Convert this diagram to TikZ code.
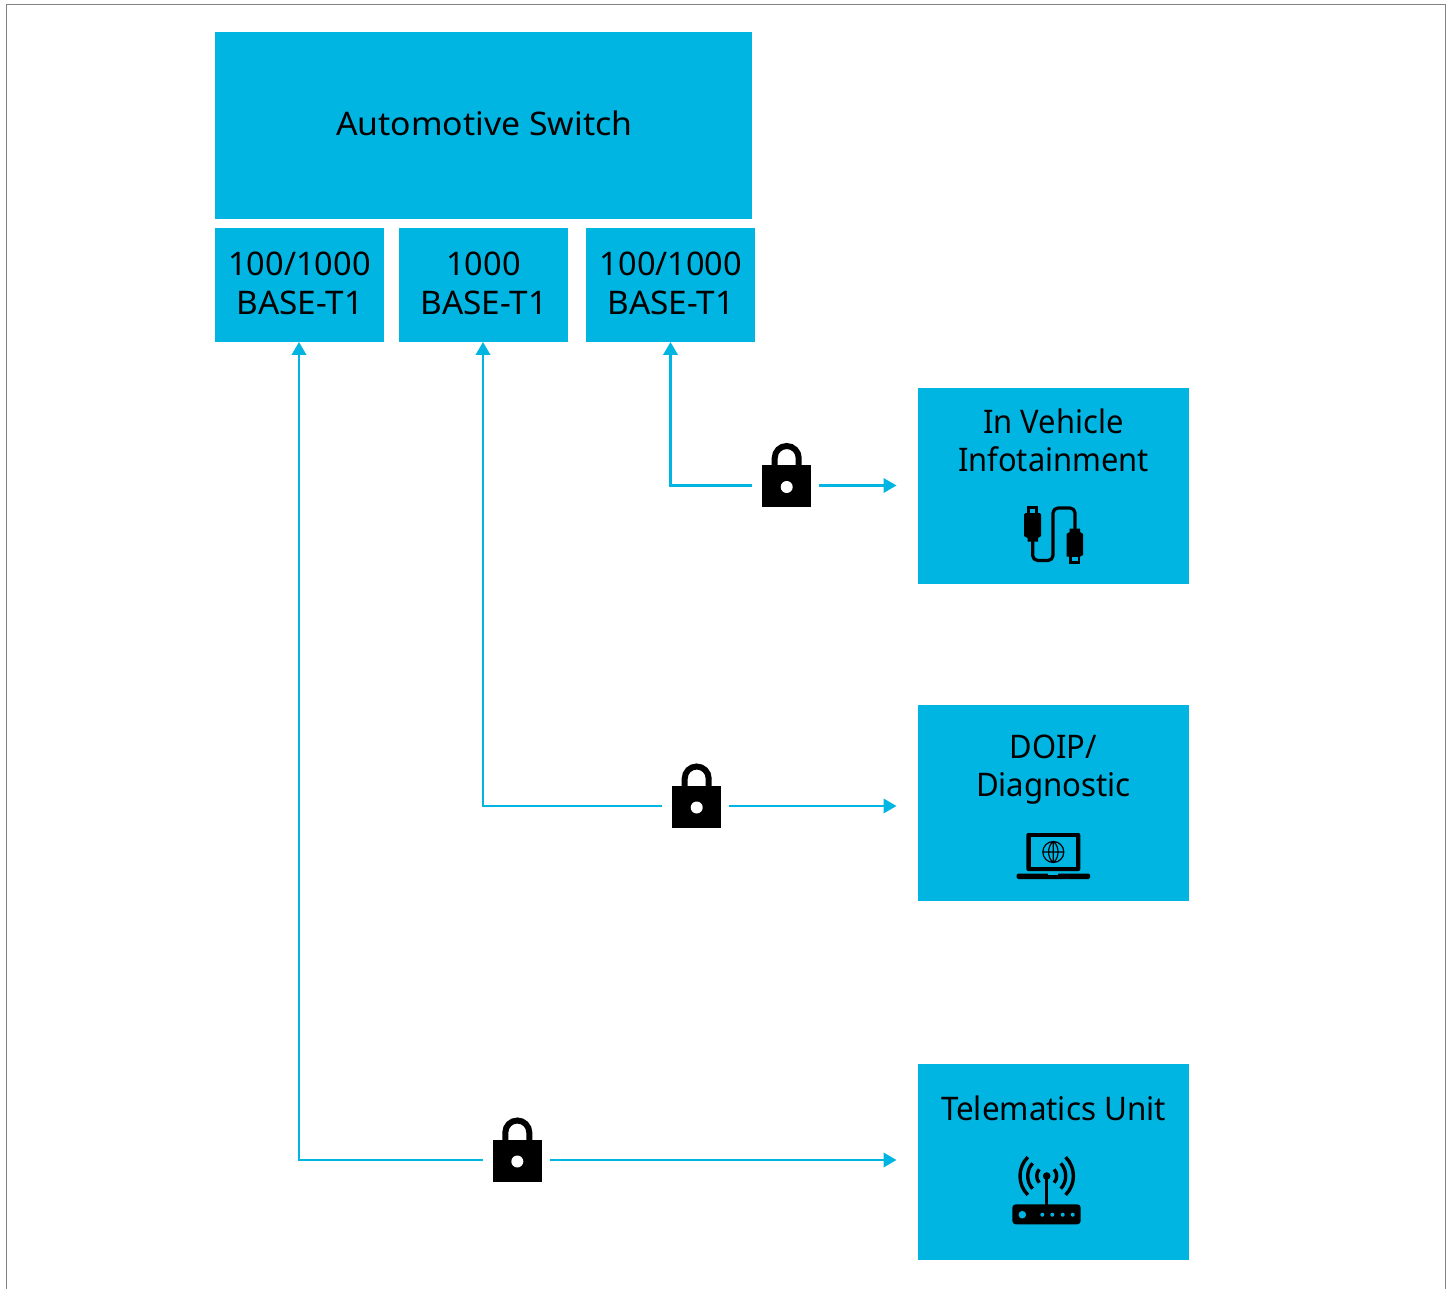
\documentclass[tikz,border=0pt]{standalone}
\usepackage{fontspec}
\setmainfont{Noto Sans}
\usetikzlibrary{arrows.meta,calc}
\definecolor{tealblue}{HTML}{00B5E2}
\definecolor{framegray}{HTML}{7F8385}
\newcommand{\hfitx}[2]{\scalebox{#1}[1]{#2}}
\tikzset{
  x=1pt,y=-1pt,
  box/.style={fill=tealblue,inner sep=0pt,outer sep=0pt,font=\fontsize{32.5}{39}\selectfont,align=center,text=black},
  caption/.style={inner sep=0pt,outer sep=0pt,font=\fontsize{32.5}{38}\selectfont,align=center,text=black},
  link/.style={draw=tealblue,line width=2.2pt,-{Triangle[length=13pt,width=14.5pt]}},
  gap/.style={inner sep=0pt,outer sep=0pt,minimum width=67pt,minimum height=2pt},
  icon/.style={line width=3.2pt,draw=black,line cap=round,line join=round},
  pics/padlock/.style={code={
    \begin{scope}[y=1pt]
      \fill[black] (-24.5,20.5) rectangle (24.5,-21.5);
      \draw[black,line width=6pt] (-12,20) -- (-12,27.5) arc[start angle=180,end angle=0,radius=12pt] -- (12,20);
      \fill[white] (0,-1.5) circle[radius=6pt];
    \end{scope}
  }}
}
\begin{document}
\begin{tikzpicture}
\useasboundingbox (0,0) rectangle (1452,1289);
% frame
\draw[framegray,line width=1.3pt] (6.5,1289) -- (6.5,4.3) -- (1445.5,4.3) -- (1445.5,1289);
% switch and ports
\node[box,minimum width=537pt,minimum height=187pt] (switch) at (483.5,125.5) {\hspace*{1.5pt}\raisebox{5pt}{\hfitx{1.04}{Automotive Switch}}};
\node[box,minimum width=169pt,minimum height=114pt] (port1) at (299.5,285) {\raisebox{3pt}{100/1000}\\\raisebox{3pt}{\hspace*{1pt}\hfitx{1.025}{BASE-T1}}};
\node[box,minimum width=169pt,minimum height=114pt] (port2) at (483.5,285) {\raisebox{3pt}{1000}\\\raisebox{3pt}{\hspace*{1pt}\hfitx{1.025}{BASE-T1}}};
\node[box,minimum width=169pt,minimum height=114pt] (port3) at (670.5,285) {\raisebox{3pt}{\hspace*{1pt}100/1000}\\\raisebox{3pt}{\hspace*{1pt}\hfitx{1.025}{BASE-T1}}};
% devices
\node[box,minimum width=271pt,minimum height=196pt] (info) at (1053.5,486) {};
\node[box,minimum width=271pt,minimum height=196pt] (diag) at (1053.5,803) {};
\node[box,minimum width=271pt,minimum height=196pt] (tele) at (1053.5,1162) {};
\node[caption] (infotext) at (1053.5,440.5) {\hfitx{0.95}{In Vehicle}\\\hfitx{0.95}{Infotainment}};
\node[caption] (diagtext) at (1053.5,769.5) {\hfitx{0.95}{DOIP/}\\\hfitx{0.96}{Diagnostic}};
\node[caption] (teletext) at (1053.5,1108) {\hfitx{0.965}{Telematics Unit}};
% lock gaps
\node[gap] (lock1) at (785.5,485.5) {};
\node[gap] (lock2) at (695.5,806) {};
\node[gap] (lock3) at (516.5,1160) {};
\pic at (786.7,485.5) {padlock};
\pic at (696.7,806) {padlock};
\pic at (517.3,1160) {padlock};
% connectors
\draw[link] (lock1.west) -| (port3.south);
\draw[link] (lock2.west) -| ([xshift=-0.5pt]port2.south);
\draw[link] (lock3.west) -| ([xshift=-0.5pt]port1.south);
\draw[link,shorten >=21.5pt] (lock1.east) -- (lock1.east -| info.west);
\draw[link,shorten >=21.5pt] (lock2.east) -- (lock2.east -| diag.west);
\draw[link,shorten >=21.5pt] (lock3.east) -- (lock3.east -| tele.west);
% cable icon
\fill[black] (1027,506) rectangle (1038,514);
\fill[tealblue] (1030,509) rectangle (1035,513.5);
\fill[black] (1024,514.5) -- (1025.5,513) -- (1039.5,513) -- (1041,514.5) -- (1041,536) -- (1038,538) -- (1038,541.7) -- (1027.5,541.7) -- (1027.5,538) -- (1024,536) -- cycle;
\fill[black] (1066.5,534) -- (1069.5,532) -- (1069.5,528.5) -- (1080,528.5) -- (1080,532) -- (1083,534) -- (1083,555) -- (1080,556.7) -- (1066.5,556.7) -- cycle;
\fill[black] (1069,556) rectangle (1080,563.5);
\fill[tealblue] (1072,556.5) rectangle (1077.5,560.5);
\draw[icon,rounded corners=5pt] (1032.7,541) -- (1032.7,560.5) -- (1053,560.5) -- (1053,508) -- (1075,508) -- (1075,529);
% laptop icon
\fill[black,rounded corners=2pt] (1026.3,833) rectangle (1080.3,871);
\fill[tealblue] (1030.7,837.3) rectangle (1076,866.7);
\fill[black,rounded corners=1.5pt] (1016.7,873.5) rectangle (1090,879);
\fill[tealblue] (1048,873) rectangle (1058,874.8);
\draw[black,line width=1.2pt] (1053.3,852) circle[radius=10.5pt]
  (1042.8,852) -- (1063.8,852)
  (1053.3,841.5) -- (1053.3,862.5)
  (1053.3,841.5) .. controls (1047,846) and (1047,858) .. (1053.3,862.5)
  (1053.3,841.5) .. controls (1059.6,846) and (1059.6,858) .. (1053.3,862.5);
% router icon
\fill[black,rounded corners=3.5pt] (1012.3,1204.3) rectangle (1080.7,1224.3);
\fill[tealblue] (1022.3,1214.7) circle[radius=3.8pt];
\foreach \dx in {1042.3,1052.3,1062.7,1072.7} \fill[tealblue] (\dx,1214.7) circle[radius=2pt];
\draw[black,line width=3pt] (1046.7,1205) -- (1046.7,1176);
\fill[black] (1046.7,1176) circle[radius=3.8pt];
\begin{scope}[shift={(1046.7,1176)},y=1pt]
  \foreach \r/\a in {10/42,19/42,26.7/45} {
    \draw[black,line width=3.4pt] (-\a:\r pt) arc[start angle=-\a,end angle=\a,radius=\r pt];
    \draw[black,line width=3.4pt] (180-\a:\r pt) arc[start angle=180-\a,end angle=180+\a,radius=\r pt];
  }
\end{scope}
\end{tikzpicture}
\end{document}
